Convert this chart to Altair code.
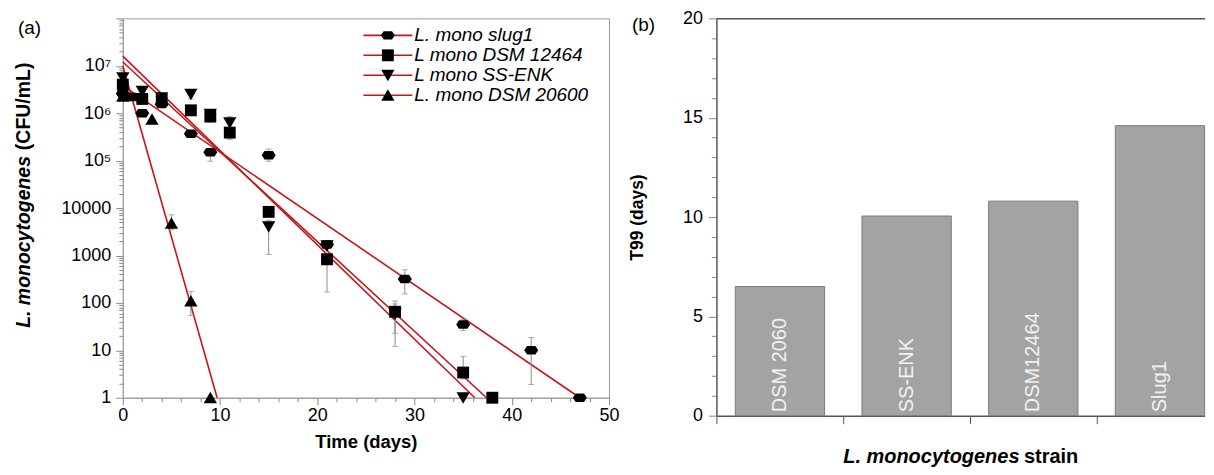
import altair as alt
import pandas as pd

FONT = "Liberation Sans"
RED = "#c3161c"
GREY_AX = "#9a9a9a"
TICK_GREY = "#8a8a8a"
DARK_AX = "#555555"

# ---------------- Panel (a): survival curves ----------------
series_names = ["L. mono slug1", "L mono DSM 12464", "L mono SS-ENK", "L. mono DSM 20600"]
# custom marker paths: hexagon, square, triangle-down, triangle-up
shape_paths = [
    "M-1,0L-0.6,-0.6L0.6,-0.6L1,0L0.6,0.6L-0.6,0.6Z",
    "M-0.85,-0.85L0.85,-0.85L0.85,0.85L-0.85,0.85Z",
    "M-0.95,-0.8L0.95,-0.8L0,0.85Z",
    "M-0.95,0.8L0.95,0.8L0,-0.85Z",
]

slug1_t = [0, 1, 2, 4, 7, 9, 15, 21, 29, 35, 42, 47]
slug1_v = [2.6e6, 2.2e6, 1.0e6, 1.55e6, 3.7e5, 1.5e5, 1.3e5, 1.7e3, 320, 35, 10, 1]
dsm12464_t = [0, 2, 4, 7, 9, 11, 15, 21, 28, 35, 38]
dsm12464_v = [4.0e6, 2.0e6, 1.9e6, 1.15e6, 8.5e5, 3.9e5, 8.3e3, 830, 65, 3.4, 1]
ssenk_t = [0, 2, 4, 7, 9, 11, 15, 21, 28, 35]
ssenk_v = [5.6e6, 2.9e6, 2.1e6, 2.5e6, 9.5e5, 6.3e5, 4.0e3, 1.6e3, 58, 1]
dsm20600_t = [0, 3, 5, 7, 9]
dsm20600_v = [2.3e6, 7.5e5, 4.8e3, 110, 1]

err_series = (["L. mono slug1"] * 8 + ["L mono DSM 12464"] * 6
              + ["L mono SS-ENK"] * 5 + ["L. mono DSM 20600"] * 2)
err_t = [2, 7, 9, 15, 21, 29, 35, 42,
         4, 9, 11, 21, 28, 35,
         0, 7, 11, 15, 28,
         5, 7]
err_lo = [0.85e6, 3.2e5, 9.7e4, 9.7e4, 1.4e3, 155, 26, 1.9,
          1.5e6, 6.5e5, 2.8e5, 170, 12, 2.5,
          4.5e6, 2.0e6, 5.0e5, 1.05e3, 23,
          3.5e3, 54]
err_hi = [1.15e6, 4.3e5, 1.7e5, 1.75e5, 2.0e3, 500, 45, 18.6,
          2.3e6, 1.0e6, 4.5e5, 1100, 110, 7.5,
          6.5e6, 3.1e6, 8.5e5, 5.5e3, 95,
          7.2e3, 175]

fit_series = ["L. mono slug1", "L. mono slug1", "L mono DSM 12464", "L mono DSM 12464",
              "L mono SS-ENK", "L mono SS-ENK", "L. mono DSM 20600", "L. mono DSM 20600"]
fit_t = [0, 47, 0, 37.4, 0, 36.2, 0, 9.7]
fit_v = [3.8e6, 1, 1.2e7, 1, 1.6e7, 1, 1.0e7, 1]

x_tick_values = list(range(0, 51, 2))
y_major_vals = [1, 10, 100, 1000, 10000, 100000, 1000000, 10000000, 100000000]
y_major_labels = ["1", "10", "100", "1000", "10000", "10\u2075", "10\u2076", "10\u2077", ""]
y_tick_values = sorted({m * 10 ** k for k in range(0, 8) for m in range(1, 10)} | {100000000})

ylab_a = ["L. monocytogenes", "(CFU/mL)"]
xlab_a = "Time (days)"

# ---------------- Panel (b): T99 bars ----------------
strains = ["DSM 2060", "SS-ENK", "DSM12464", "Slug1"]
t99 = [6.5, 10.05, 10.8, 14.6]
y_b_ticks = list(range(0, 21))
ylab_b = "T99 (days)"
xlab_b = ["L. monocytogenes", "strain"]

# ---------------- build tables ----------------
rows = []
for name, ts, vs in zip(series_names, [slug1_t, dsm12464_t, ssenk_t, dsm20600_t],
                        [slug1_v, dsm12464_v, ssenk_v, dsm20600_v]):
    for t, v in zip(ts, vs):
        rows.append({"series": name, "t": t, "v": v})
pts_df = pd.DataFrame(rows)
fit_keys = [s + " fit" for s in series_names]
fit_df = pd.DataFrame({"fit": [s + " fit" for s in fit_series], "t": fit_t, "v": fit_v})
err_df = pd.DataFrame({"series": err_series, "t": err_t, "lo": err_lo, "hi": err_hi})
bar_df = pd.DataFrame({"strain": strains, "t99": t99})

LW, LH = 487, 380
RW, RH = 489, 398

# y label expression
y_expr = "''"
for v, l in reversed(list(zip(y_major_vals, y_major_labels))):
    y_expr = f"datum.value == {v} ? '{l}' : ({y_expr})"
y_major_test = "indexof([" + ",".join(str(v) for v in y_major_vals) + "], datum.value) >= 0"

xsc = alt.Scale(domain=[0, 50], nice=False)
ysc = alt.Scale(type="log", domain=[1, 100000000], nice=False)

x_axis = alt.Axis(
    values=x_tick_values,
    labelExpr="datum.value % 10 == 0 ? '' + datum.value : ''",
    tickSize={"condition": {"test": "datum.value % 10 == 0", "value": 7}, "value": 4},
    title=xlab_a, titleFontSize=18.5, titleFontWeight="bold", titlePadding=8,
    titleColor="black", labelFontSize=18, labelPadding=2, labelColor="black",
    labelFlush=False, labelOverlap=False, grid=False,
    domainColor=GREY_AX, tickColor=TICK_GREY,
)
y_axis = alt.Axis(
    values=y_tick_values,
    labelExpr=y_expr,
    tickSize={"condition": {"test": y_major_test, "value": 7}, "value": 4},
    title=None, labelFontSize=18, labelPadding=5, labelColor="black",
    labelFlush=False, labelOverlap=False, grid=False,
    domainColor=GREY_AX, tickColor=TICK_GREY,
)

LEG_X, LEG_Y, LEG_FS, LEG_RP, LEG_OFF = 256, 7.5, 19, 0, 17

fit = alt.Chart(fit_df).mark_line(strokeWidth=1.6).encode(
    x=alt.X("t:Q", scale=xsc, axis=x_axis),
    y=alt.Y("v:Q", scale=ysc, axis=y_axis),
    color=alt.Color(
        "fit:N",
        scale=alt.Scale(domain=fit_keys, range=[RED] * 4),
        legend=alt.Legend(
            title=None, orient="none", legendX=LEG_X, legendY=LEG_Y, padding=0,
            symbolType="M-3.5,0L3.5,0", symbolSize=196, symbolStrokeWidth=1.6,
            labelExpr="''", labelFontSize=LEG_FS, labelOffset=LEG_OFF, rowPadding=LEG_RP,
        ),
    ),
    detail="fit:N",
)

err_rule = alt.Chart(err_df).mark_rule(color="#8c8c8c", strokeWidth=1).encode(
    x=alt.X("t:Q", scale=xsc, axis=x_axis), y=alt.Y("lo:Q", scale=ysc, axis=y_axis), y2="hi:Q"
)
cap_lo = alt.Chart(err_df).mark_tick(orient="horizontal", size=6, thickness=1, color="#8c8c8c").encode(
    x=alt.X("t:Q", scale=xsc, axis=x_axis), y=alt.Y("lo:Q", scale=ysc, axis=y_axis)
)
cap_hi = alt.Chart(err_df).mark_tick(orient="horizontal", size=6, thickness=1, color="#8c8c8c").encode(
    x=alt.X("t:Q", scale=xsc, axis=x_axis), y=alt.Y("hi:Q", scale=ysc, axis=y_axis)
)

pts = alt.Chart(pts_df).mark_point(filled=True, color="black", size=196, opacity=1).encode(
    x=alt.X("t:Q", scale=xsc, axis=x_axis),
    y=alt.Y("v:Q", scale=ysc, axis=y_axis),
    shape=alt.Shape(
        "series:N",
        scale=alt.Scale(domain=series_names, range=shape_paths),
        legend=alt.Legend(
            title=None, orient="none", legendX=LEG_X, legendY=LEG_Y, padding=0,
            symbolSize=196, symbolFillColor="black", symbolStrokeWidth=0,
            labelFontSize=LEG_FS, labelFontStyle="italic", labelColor="black",
            labelOffset=LEG_OFF, rowPadding=LEG_RP, labelLimit=400,
        ),
    ),
)

t_ya1 = alt.Chart(pd.DataFrame({"s": [ylab_a[0]]})).mark_text(
    angle=270, align="left", baseline="middle", fontSize=19.5, fontWeight="bold",
    fontStyle="italic", color="black"
).encode(x=alt.value(-99), y=alt.value(310), text="s:N")
t_ya2 = alt.Chart(pd.DataFrame({"s": [ylab_a[1]]})).mark_text(
    angle=270, align="left", baseline="middle", fontSize=19.5, fontWeight="bold", color="black"
).encode(x=alt.value(-99), y=alt.value(132), text="s:N")
t_a = alt.Chart(pd.DataFrame({"s": ["(a)"]})).mark_text(
    align="left", baseline="middle", fontSize=19, color="black"
).encode(x=alt.value(-105), y=alt.value(10), text="s:N")

left = alt.layer(fit, err_rule, cap_lo, cap_hi, pts, t_ya1, t_ya2, t_a).properties(
    width=LW, height=LH, view=alt.ViewBackground(stroke=GREY_AX, strokeWidth=1)
)

# ---------------- right panel ----------------
xb_scale = alt.Scale(domain=strains, paddingInner=0.295, paddingOuter=0.0745, align=1)
yb_scale = alt.Scale(domain=[0, 20], nice=False)

yb_axis = alt.Axis(values=y_b_ticks,
                   labelExpr="datum.value % 5 == 0 ? '' + datum.value : ''",
                   tickSize={"condition": {"test": "datum.value % 5 == 0", "value": 8}, "value": 5},
                   title=ylab_b, titleFontSize=17.5, titleFontWeight="bold",
                   titleColor="black", titlePadding=36,
                   labelFontSize=18, labelPadding=6, labelColor="black",
                   labelFlush=False, labelOverlap=False, grid=False,
                   domainColor=DARK_AX, tickColor=TICK_GREY, domainWidth=1.5)

bars = alt.Chart(bar_df).mark_bar(color="#a3a3a3", stroke="#7a7a7a", strokeWidth=1).encode(
    x=alt.X("strain:N", sort=strains, scale=xb_scale,
            axis=alt.Axis(labels=False, title=None, tickSize=8, bandPosition=0,
                          tickOffset=-18.9, domainColor=DARK_AX, tickColor=DARK_AX,
                          domainWidth=1.5, tickWidth=1, orient="bottom")),
    y=alt.Y("t99:Q", scale=yb_scale, axis=yb_axis),
)
bar_txt = alt.Chart(bar_df).transform_calculate(zero="0").mark_text(
    angle=270, align="left", baseline="middle", fontSize=20, color="#f2f2f2", dx=3.5
).encode(
    x=alt.X("strain:N", sort=strains, scale=xb_scale,
            axis=alt.Axis(labels=False, title=None, ticks=False, orient="top",
                          domainColor=DARK_AX, domainWidth=1.5)),
    y=alt.Y("zero:Q", scale=yb_scale, axis=yb_axis),
    text="strain:N",
)

t_xb1 = alt.Chart(pd.DataFrame({"s": [xlab_b[0]]})).mark_text(
    align="left", baseline="middle", fontSize=20, fontWeight="bold", fontStyle="italic", color="black"
).encode(x=alt.value(127), y=alt.value(439), text="s:N")
t_xb2 = alt.Chart(pd.DataFrame({"s": [xlab_b[1]]})).mark_text(
    align="left", baseline="middle", fontSize=20, fontWeight="bold", color="black"
).encode(x=alt.value(308), y=alt.value(439), text="s:N")
t_b = alt.Chart(pd.DataFrame({"s": ["(b)"]})).mark_text(
    align="left", baseline="middle", fontSize=19, color="black"
).encode(x=alt.value(-84.6), y=alt.value(7), text="s:N")

right = alt.layer(bars, bar_txt, t_xb1, t_xb2, t_b).resolve_axis(x="independent").properties(
    width=RW, height=RH, view=alt.ViewBackground(stroke=None)
)

chart = alt.hconcat(left, right, spacing=107.6, bounds="flush").properties(
    padding={"left": 5, "top": 0, "right": 0, "bottom": 0}
).configure(font=FONT, background="white")

chart.save("out.html", embed_options={"renderer": "svg", "actions": False})
